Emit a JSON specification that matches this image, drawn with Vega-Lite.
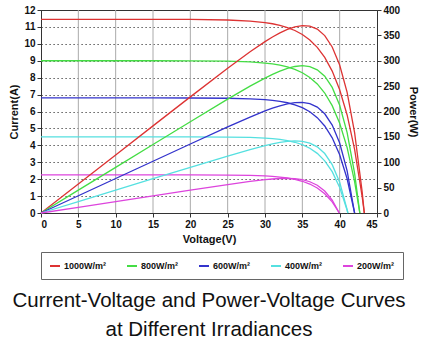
{
  "$schema": "https://vega.github.io/schema/vega-lite/v6.json",
  "width": 336,
  "height": 203,
  "autosize": {"type": "none"},
  "padding": {"left": 41, "top": 10, "right": 61, "bottom": 134},
  "background": "white",
  "title": {
    "text": ["Current-Voltage and Power-Voltage Curves", "at Different Irradiances"],
    "orient": "bottom",
    "anchor": "middle",
    "font": "Liberation Sans",
    "fontSize": 20.5,
    "fontWeight": "normal",
    "color": "#111",
    "lineHeight": 29,
    "offset": 11
  },
  "config": {
    "view": {"stroke": "#333", "strokeWidth": 1},
    "axis": {
      "labelFont": "Liberation Sans",
      "labelFontWeight": "bold",
      "labelFontSize": 10,
      "labelColor": "#111",
      "titleFont": "Liberation Sans",
      "titleFontWeight": "bold",
      "titleFontSize": 11,
      "titleColor": "#111",
      "domainColor": "#333",
      "tickColor": "#333",
      "tickSize": 4,
      "labelPadding": 2,
      "gridColor": "#333",
      "gridDash": [1.2, 2.8],
      "gridWidth": 1,
      "gridOpacity": 1
    }
  },
  "datasets": {
    "curves": [
      {"irr":"1000W/m²","V":0,"I":11.45,"P":0},
      {"irr":"1000W/m²","V":5,"I":11.45,"P":57.25},
      {"irr":"1000W/m²","V":10,"I":11.45,"P":114.5},
      {"irr":"1000W/m²","V":15,"I":11.448,"P":171.7},
      {"irr":"1000W/m²","V":20,"I":11.44,"P":228.8},
      {"irr":"1000W/m²","V":25,"I":11.408,"P":285.2},
      {"irr":"1000W/m²","V":28,"I":11.345,"P":317.7},
      {"irr":"1000W/m²","V":30,"I":11.256,"P":337.7},
      {"irr":"1000W/m²","V":31,"I":11.187,"P":346.8},
      {"irr":"1000W/m²","V":32,"I":11.092,"P":354.9},
      {"irr":"1000W/m²","V":33,"I":10.964,"P":361.8},
      {"irr":"1000W/m²","V":34,"I":10.789,"P":366.8},
      {"irr":"1000W/m²","V":35,"I":10.552,"P":369.3},
      {"irr":"1000W/m²","V":36,"I":10.229,"P":368.3},
      {"irr":"1000W/m²","V":37,"I":9.793,"P":362.3},
      {"irr":"1000W/m²","V":38,"I":9.197,"P":349.5},
      {"irr":"1000W/m²","V":39,"I":8.388,"P":327.1},
      {"irr":"1000W/m²","V":40,"I":7.289,"P":291.6},
      {"irr":"1000W/m²","V":41,"I":5.795,"P":237.6},
      {"irr":"1000W/m²","V":42,"I":3.766,"P":158.2},
      {"irr":"1000W/m²","V":43,"I":1.006,"P":43.3},
      {"irr":"1000W/m²","V":43.3,"I":0,"P":0},

      {"irr":"800W/m²","V":0,"I":9.0,"P":0},
      {"irr":"800W/m²","V":5,"I":9.0,"P":45},
      {"irr":"800W/m²","V":10,"I":9.0,"P":90},
      {"irr":"800W/m²","V":15,"I":8.999,"P":135},
      {"irr":"800W/m²","V":20,"I":8.995,"P":179.9},
      {"irr":"800W/m²","V":25,"I":8.974,"P":224.3},
      {"irr":"800W/m²","V":28,"I":8.93,"P":250.0},
      {"irr":"800W/m²","V":30,"I":8.864,"P":265.9},
      {"irr":"800W/m²","V":31,"I":8.811,"P":273.1},
      {"irr":"800W/m²","V":32,"I":8.737,"P":279.6},
      {"irr":"800W/m²","V":33,"I":8.634,"P":284.9},
      {"irr":"800W/m²","V":34,"I":8.491,"P":288.7},
      {"irr":"800W/m²","V":35,"I":8.291,"P":290.2},
      {"irr":"800W/m²","V":36,"I":8.014,"P":288.5},
      {"irr":"800W/m²","V":37,"I":7.628,"P":282.2},
      {"irr":"800W/m²","V":38,"I":7.092,"P":269.5},
      {"irr":"800W/m²","V":39,"I":6.346,"P":247.5},
      {"irr":"800W/m²","V":40,"I":5.308,"P":212.3},
      {"irr":"800W/m²","V":41,"I":3.865,"P":158.5},
      {"irr":"800W/m²","V":42,"I":1.857,"P":78.0},
      {"irr":"800W/m²","V":42.7,"I":0,"P":0},

      {"irr":"600W/m²","V":0,"I":6.8,"P":0},
      {"irr":"600W/m²","V":5,"I":6.8,"P":34},
      {"irr":"600W/m²","V":10,"I":6.8,"P":68},
      {"irr":"600W/m²","V":15,"I":6.8,"P":102},
      {"irr":"600W/m²","V":20,"I":6.797,"P":135.9},
      {"irr":"600W/m²","V":25,"I":6.783,"P":169.6},
      {"irr":"600W/m²","V":28,"I":6.752,"P":189.1},
      {"irr":"600W/m²","V":30,"I":6.702,"P":201.1},
      {"irr":"600W/m²","V":31,"I":6.661,"P":206.5},
      {"irr":"600W/m²","V":32,"I":6.602,"P":211.3},
      {"irr":"600W/m²","V":33,"I":6.517,"P":215.1},
      {"irr":"600W/m²","V":34,"I":6.397,"P":217.5},
      {"irr":"600W/m²","V":35,"I":6.227,"P":217.9},
      {"irr":"600W/m²","V":36,"I":5.984,"P":215.4},
      {"irr":"600W/m²","V":37,"I":5.638,"P":208.6},
      {"irr":"600W/m²","V":38,"I":5.145,"P":195.5},
      {"irr":"600W/m²","V":39,"I":4.444,"P":173.3},
      {"irr":"600W/m²","V":40,"I":3.446,"P":137.8},
      {"irr":"600W/m²","V":41,"I":2.024,"P":83.0},
      {"irr":"600W/m²","V":42,"I":0,"P":0},

      {"irr":"400W/m²","V":0,"I":4.5,"P":0},
      {"irr":"400W/m²","V":5,"I":4.5,"P":22.5},
      {"irr":"400W/m²","V":10,"I":4.5,"P":45},
      {"irr":"400W/m²","V":15,"I":4.5,"P":67.5},
      {"irr":"400W/m²","V":20,"I":4.498,"P":90.0},
      {"irr":"400W/m²","V":25,"I":4.489,"P":112.2},
      {"irr":"400W/m²","V":28,"I":4.466,"P":125.1},
      {"irr":"400W/m²","V":30,"I":4.428,"P":132.9},
      {"irr":"400W/m²","V":31,"I":4.396,"P":136.3},
      {"irr":"400W/m²","V":32,"I":4.349,"P":139.2},
      {"irr":"400W/m²","V":33,"I":4.281,"P":141.3},
      {"irr":"400W/m²","V":34,"I":4.182,"P":142.2},
      {"irr":"400W/m²","V":35,"I":4.038,"P":141.3},
      {"irr":"400W/m²","V":36,"I":3.829,"P":137.8},
      {"irr":"400W/m²","V":37,"I":3.525,"P":130.4},
      {"irr":"400W/m²","V":38,"I":3.085,"P":117.2},
      {"irr":"400W/m²","V":39,"I":2.444,"P":95.3},
      {"irr":"400W/m²","V":40,"I":1.515,"P":60.6},
      {"irr":"400W/m²","V":41,"I":0.165,"P":6.8},
      {"irr":"400W/m²","V":41.1,"I":0,"P":0},

      {"irr":"200W/m²","V":0,"I":2.25,"P":0},
      {"irr":"200W/m²","V":5,"I":2.25,"P":11.25},
      {"irr":"200W/m²","V":10,"I":2.25,"P":22.5},
      {"irr":"200W/m²","V":15,"I":2.25,"P":33.75},
      {"irr":"200W/m²","V":20,"I":2.248,"P":45.0},
      {"irr":"200W/m²","V":25,"I":2.24,"P":56.0},
      {"irr":"200W/m²","V":28,"I":2.22,"P":62.2},
      {"irr":"200W/m²","V":30,"I":2.189,"P":65.7},
      {"irr":"200W/m²","V":31,"I":2.162,"P":67.0},
      {"irr":"200W/m²","V":32,"I":2.124,"P":68.0},
      {"irr":"200W/m²","V":33,"I":2.069,"P":68.3},
      {"irr":"200W/m²","V":34,"I":1.989,"P":67.6},
      {"irr":"200W/m²","V":35,"I":1.876,"P":65.7},
      {"irr":"200W/m²","V":36,"I":1.712,"P":61.6},
      {"irr":"200W/m²","V":37,"I":1.477,"P":54.7},
      {"irr":"200W/m²","V":38,"I":1.14,"P":43.3},
      {"irr":"200W/m²","V":39,"I":0.655,"P":25.5},
      {"irr":"200W/m²","V":39.95,"I":0,"P":0}
    ],
    "vgrid": [
      {"V":5},{"V":10},{"V":15},{"V":20},{"V":25},{"V":30},{"V":35},{"V":40}
    ]
  },
  "encoding": {
    "x": {
      "field": "V",
      "type": "quantitative",
      "scale": {"domain": [0, 45], "nice": false},
      "axis": {"title": "Voltage(V)", "values": [0,5,10,15,20,25,30,35,40,45], "grid": false, "titlePadding": 4}
    }
  },
  "layer": [
    {
      "data": {"name": "vgrid"},
      "mark": {"type": "rule", "color": "#aaaaaa", "strokeWidth": 1},
      "encoding": {}
    },
    {
      "data": {"name": "curves"},
      "mark": {"type": "line", "strokeWidth": 1.3},
      "encoding": {
        "y": {
          "field": "I",
          "type": "quantitative",
          "scale": {"domain": [0, 12], "nice": false},
          "axis": {"title": "Current(A)", "values": [0,1,2,3,4,5,6,7,8,9,10,11,12], "grid": true, "titlePadding": 4}
        },
        "color": {
          "field": "irr",
          "type": "nominal",
          "scale": {
            "domain": ["1000W/m²", "800W/m²", "600W/m²", "400W/m²", "200W/m²"],
            "range": ["#dd3333", "#44dd44", "#3333cc", "#55e0e0", "#dd44dd"]
          },
          "legend": {
            "orient": "none",
            "legendX": 0,
            "legendY": 242,
            "direction": "horizontal",
            "columns": 5,
            "title": null,
            "symbolType": "stroke",
            "symbolSize": 100,
            "symbolStrokeWidth": 2,
            "labelFont": "Liberation Sans",
            "labelFontSize": 9,
            "labelFontWeight": "bold",
            "labelColor": "#111",
            "labelOffset": 3,
            "columnPadding": 16,
            "padding": 8,
            "strokeColor": "#666",
            "fillColor": "white"
          }
        }
      }
    },
    {
      "data": {"name": "curves"},
      "mark": {"type": "line", "strokeWidth": 1.3},
      "encoding": {
        "y": {
          "field": "P",
          "type": "quantitative",
          "scale": {"domain": [0, 400], "nice": false},
          "axis": {"title": "Power(W)", "orient": "right", "values": [0,50,100,150,200,250,300,350,400], "grid": false, "titlePadding": 8}
        },
        "color": {"field": "irr", "type": "nominal"}
      }
    }
  ],
  "resolve": {"scale": {"y": "independent"}}
}
